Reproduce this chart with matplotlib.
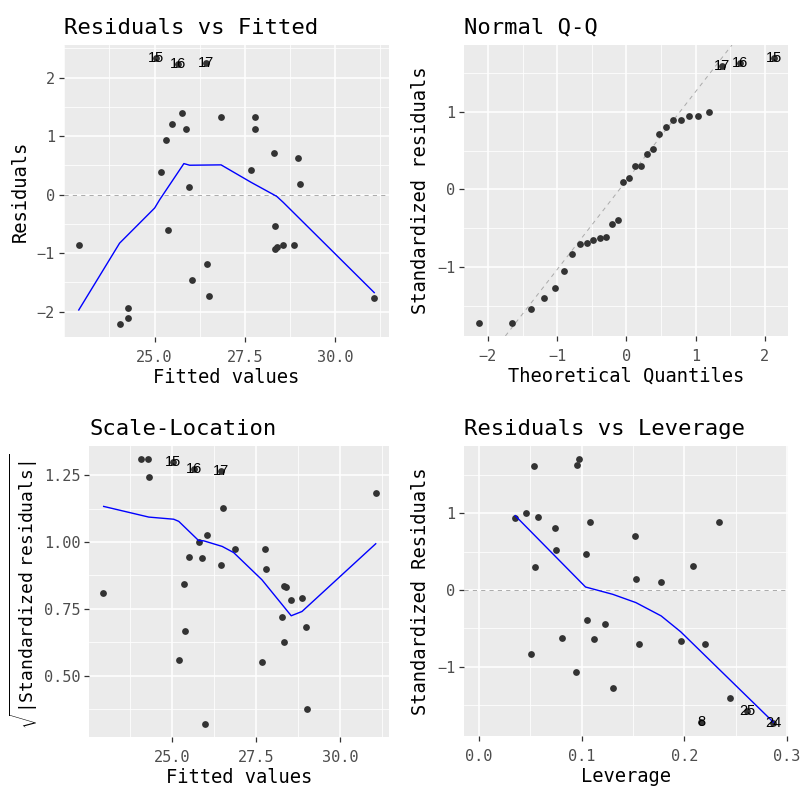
import numpy as np
import matplotlib
matplotlib.use("Agg")
import matplotlib.pyplot as plt
from matplotlib import font_manager

# ---------------- data ----------------
# Residuals vs Fitted
fitted = [22.90, 24.05, 24.25, 24.27, 25.17, 25.32, 25.36, 25.47, 25.77, 25.86,
          25.94, 26.03, 26.44, 26.50, 26.84, 27.67, 27.78, 27.78, 28.30, 28.33,
          28.32, 28.39, 28.56, 28.86, 28.97, 29.02, 31.08, 25.04, 25.64, 26.41]
residuals = [-0.863, -2.206, -2.114, -1.931, 0.389, 0.931, -0.611, 1.206, 1.400, 1.114,
             0.126, -1.457, -1.177, -1.726, 1.331, 0.417, 1.326, 1.114, 0.709, -0.543,
             -0.937, -0.897, -0.863, -0.863, 0.623, 0.177, -1.766, 2.331, 2.229, 2.246]
rf_labels = ["15", "16", "17"]          # last three points
rf_smooth_x = [22.90, 24.03, 25.00, 25.14, 25.81, 25.97, 26.84, 27.67, 28.38, 28.56, 31.08]
rf_smooth_y = [-1.971, -0.829, -0.229, -0.086, 0.531, 0.503, 0.509, 0.211, -0.029, -0.131, -1.674]

# Normal Q-Q
theo_q = [-2.128, -1.645, -1.383, -1.192, -1.036, -0.903, -0.783, -0.674, -0.573, -0.477,
          -0.385, -0.297, -0.210, -0.126, -0.042, 0.042, 0.126, 0.210, 0.297, 0.385,
          0.477, 0.573, 0.674, 0.783, 0.903, 1.036, 1.192, 1.383, 1.645, 2.128]
qq_std_resid = [-1.720, -1.720, -1.547, -1.401, -1.272, -1.056, -0.832, -0.703, -0.694, -0.659,
                -0.625, -0.616, -0.444, -0.392, 0.099, 0.142, 0.302, 0.306, 0.461, 0.517,
                0.707, 0.806, 0.888, 0.888, 0.944, 0.944, 1.000, 1.595, 1.629, 1.690]
qq_labels = ["17", "16", "15"]          # last three points
qq_line_intercept = 0.112
qq_line_slope = 1.146

# Scale-Location
sl_fitted = [22.96, 24.10, 24.31, 24.33, 25.21, 25.37, 25.41, 25.50, 25.80, 25.89,
             25.98, 26.06, 26.47, 26.52, 26.87, 27.68, 27.78, 27.79, 28.29, 28.34,
             28.34, 28.40, 28.55, 28.86, 28.98, 29.02, 31.06, 25.05, 25.67, 26.45]
sl_sqrt_std = [0.811, 1.311, 1.311, 1.244, 0.558, 0.843, 0.665, 0.943, 0.999, 0.941,
               0.320, 1.028, 0.913, 1.129, 0.973, 0.551, 0.975, 0.900, 0.719, 0.625,
               0.836, 0.833, 0.784, 0.791, 0.681, 0.376, 1.183, 1.301, 1.273, 1.268]
sl_labels = ["15", "16", "17"]
sl_smooth_x = [22.98, 24.32, 25.06, 25.21, 25.80, 25.95, 26.50, 26.84, 27.68, 28.55, 28.87, 31.06]
sl_smooth_y = [1.134, 1.094, 1.086, 1.078, 1.006, 1.005, 0.984, 0.961, 0.859, 0.724, 0.740, 0.994]

# Residuals vs Leverage
leverage = [0.0352, 0.0459, 0.0511, 0.0533, 0.0543, 0.0572, 0.0737, 0.0753, 0.0805, 0.0947,
            0.0954, 0.0973, 0.1038, 0.1048, 0.1077, 0.1122, 0.1232, 0.1306, 0.1523, 0.1529,
            0.1555, 0.1775, 0.1966, 0.2089, 0.2202, 0.2338, 0.2447, 0.2166, 0.2616, 0.2868]
lev_std_resid = [0.942, 0.998, -0.834, 1.607, 0.302, 0.946, 0.808, 0.514, -0.618, -1.063,
                 1.620, 1.702, 0.462, -0.393, 0.886, -0.631, -0.445, -1.279, 0.704, 0.138,
                 -0.700, 0.099, -0.661, 0.311, -0.700, 0.886, -1.404, -1.720, -1.568, -1.728]
lev_labels = ["8", "25", "24"]
lev_smooth_x = [0.0352, 0.1038, 0.1303, 0.1529, 0.1775, 0.1966, 0.2868]
lev_smooth_y = [0.968, 0.039, -0.056, -0.164, -0.337, -0.544, -1.719]

# ---------------- style ----------------
names = {f.name for f in font_manager.fontManager.ttflist}
FONT = "Noto Sans Mono CJK JP" if "Noto Sans Mono CJK JP" in names else "DejaVu Sans Mono"
plt.rcParams["font.family"] = [FONT, "DejaVu Sans"]
plt.rcParams["mathtext.fontset"] = "custom"
plt.rcParams["mathtext.rm"] = FONT
plt.rcParams["lines.scale_dashes"] = False

PANEL = "#EBEBEB"
POINT = "#333333"
TICKC = "#4D4D4D"
TITLE_FS = 16
LABEL_FS = 13.5
TICK_FS = 11


def expand(vals, f=0.05):
    lo, hi = min(vals), max(vals)
    r = hi - lo
    return lo - f * r, hi + f * r


def style(ax, xlim, ylim, xmaj, xlab, xmin, ymaj, ylab, ymin):
    ax.set_facecolor(PANEL)
    ax.set_xlim(*xlim)
    ax.set_ylim(*ylim)
    ax.set_xticks(xmaj)
    ax.set_xticklabels(xlab)
    ax.set_yticks(ymaj)
    ax.set_yticklabels(ylab)
    ax.set_xticks([m for m in xmin if xlim[0] <= m <= xlim[1]], minor=True)
    ax.set_yticks([m for m in ymin if ylim[0] <= m <= ylim[1]], minor=True)
    ax.grid(which="major", color="white", lw=1.1)
    ax.grid(which="minor", color="white", lw=0.55)
    ax.set_axisbelow(True)
    for s in ax.spines.values():
        s.set_visible(False)
    ax.tick_params(which="major", length=3.5, width=0.9, color="#333333",
                   labelsize=TICK_FS, labelcolor=TICKC)
    ax.tick_params(axis="x", which="major", pad=6)
    ax.tick_params(axis="y", which="major", pad=3)
    ax.tick_params(which="minor", length=0)


def points(ax, x, y, labels):
    ax.scatter(x, y, s=24, color=POINT, linewidths=0, zorder=3)
    n = len(labels)
    for xi, yi, lab in zip(x[-n:], y[-n:], labels):
        ax.text(xi, yi, lab, ha="center", va="center", fontsize=10.5,
                family=["Liberation Sans", "DejaVu Sans"], color="black", zorder=4)


def zero_line(ax):
    ax.axhline(0, color="#AAAAAA", lw=0.7, ls=(0, (3, 3)), zorder=2)


fig = plt.figure(figsize=(8, 8), dpi=100)

# Panel 1
ax1 = fig.add_axes([0.080, 0.57875, 0.40625, 0.365])
style(ax1, expand(fitted), expand(residuals),
      [25, 27.5, 30], ["25.0", "27.5", "30.0"], [22.5, 23.75, 26.25, 28.75, 31.25],
      [-2, -1, 0, 1, 2], ["−2", "−1", "0", "1", "2"], [-2.5, -1.5, -0.5, 0.5, 1.5, 2.5])
zero_line(ax1)
points(ax1, fitted, residuals, rf_labels)
ax1.plot(rf_smooth_x, rf_smooth_y, color="#0000FF", lw=1.0, zorder=3)
ax1.set_title("Residuals vs Fitted", loc="left", fontsize=TITLE_FS, pad=8)
ax1.set_xlabel("Fitted values", fontsize=LABEL_FS, labelpad=2)
ax1.set_ylabel("Residuals", fontsize=LABEL_FS, labelpad=5)

# Panel 2
ax2 = fig.add_axes([0.5804, 0.580, 0.405, 0.36375])
style(ax2, expand(theo_q), expand(qq_std_resid),
      [-2, -1, 0, 1, 2], ["−2", "−1", "0", "1", "2"], [-1.5, -0.5, 0.5, 1.5],
      [-1, 0, 1], ["−1", "0", "1"], [-1.5, -0.5, 0.5, 1.5])
ax2.axline((0, qq_line_intercept), slope=qq_line_slope, color="#AAAAAA", lw=0.7,
           ls=(0, (3, 3)), zorder=2)
points(ax2, theo_q, qq_std_resid, qq_labels)
ax2.set_title("Normal Q-Q", loc="left", fontsize=TITLE_FS, pad=8)
ax2.set_xlabel("Theoretical Quantiles", fontsize=LABEL_FS, labelpad=2)
ax2.set_ylabel("Standardized residuals", fontsize=LABEL_FS, labelpad=5)

# Panel 3
ax3 = fig.add_axes([0.1117, 0.0791, 0.375, 0.3634])
style(ax3, expand(sl_fitted), expand(sl_sqrt_std),
      [25, 27.5, 30], ["25.0", "27.5", "30.0"], [22.5, 23.75, 26.25, 28.75, 31.25],
      [0.5, 0.75, 1.0, 1.25], ["0.50", "0.75", "1.00", "1.25"], [0.375, 0.625, 0.875, 1.125, 1.375])
points(ax3, sl_fitted, sl_sqrt_std, sl_labels)
ax3.plot(sl_smooth_x, sl_smooth_y, color="#0000FF", lw=1.0, zorder=3)
ax3.set_title("Scale-Location", loc="left", fontsize=TITLE_FS, pad=8)
ax3.set_xlabel("Fitted values", fontsize=LABEL_FS, labelpad=2)
ax3.set_ylabel(r"$\sqrt{|\mathrm{Standardized\ residuals}|}$", fontsize=LABEL_FS - 0.5, labelpad=3)

# Panel 4
lev_xlim = expand(leverage + [0.0])
ax4 = fig.add_axes([0.5804, 0.080, 0.4046, 0.3625])
style(ax4, lev_xlim, expand(lev_std_resid),
      [0.0, 0.1, 0.2, 0.3], ["0.0", "0.1", "0.2", "0.3"], [0.05, 0.15, 0.25],
      [-1, 0, 1], ["−1", "0", "1"], [-1.5, -0.5, 0.5, 1.5])
zero_line(ax4)
points(ax4, leverage, lev_std_resid, lev_labels)
ax4.plot(lev_smooth_x, lev_smooth_y, color="#0000FF", lw=1.0, zorder=3)
ax4.set_title("Residuals vs Leverage", loc="left", fontsize=TITLE_FS, pad=8)
ax4.set_xlabel("Leverage", fontsize=LABEL_FS, labelpad=2)
ax4.set_ylabel("Standardized Residuals", fontsize=LABEL_FS, labelpad=5)

fig.savefig("out.png", dpi=100, facecolor="white")
